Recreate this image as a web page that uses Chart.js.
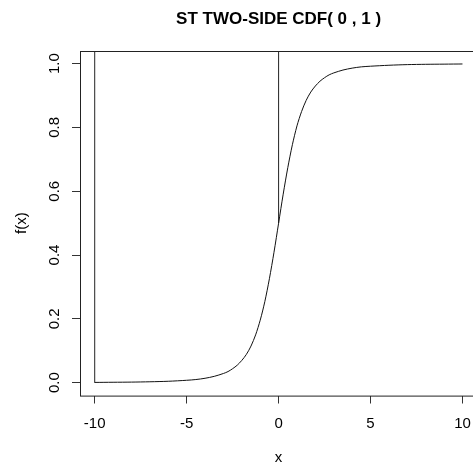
<!DOCTYPE html>
<html>
<head>
<meta charset="utf-8">
<script src="https://cdn.jsdelivr.net/npm/chart.js@4.4.1/dist/chart.umd.min.js"></script>
<style>
  html, body { margin: 0; padding: 0; background: #fff; overflow: hidden; }
  #wrap { width: 482px; height: 468px; }
</style>
</head>
<body>
<div id="wrap"><canvas id="myChart"></canvas></div>
<script>
// curve
const xValues = [-10, -9, -8, -7, -6, -5, -4.5, -4, -3.5, -3, -2.75, -2.5, -2.25, -2, -1.75, -1.5, -1.25, -1, -0.75, -0.5, -0.25, 0,
  0.25, 0.5, 0.75, 1, 1.25, 1.5, 1.75, 2, 2.25, 2.5, 2.75, 3, 3.5, 4, 4.5, 5, 6, 7, 8, 9, 10];
const fValues = [0.001, 0.0015, 0.002, 0.003, 0.0046, 0.0077, 0.010, 0.014, 0.020, 0.029, 0.035, 0.044, 0.055, 0.070, 0.089, 0.115, 0.150, 0.196, 0.254, 0.326, 0.409, 0.5,
  0.591, 0.674, 0.746, 0.805, 0.850, 0.885, 0.911, 0.930, 0.945, 0.956, 0.965, 0.971, 0.980, 0.986, 0.990, 0.992, 0.995, 0.997, 0.998, 0.9985, 0.999];
// the two vertical strokes
const jumpX = [-10, 0];
const jumpLow = [0, 0.5];
const jumpHigh = [1.04, 1.04];

const xTicks = [-10, -5, 0, 5, 10];
const yTicks = [0, 0.2, 0.4, 0.6, 0.8, 1.0];

const curve = xValues.map((x, i) => ({ x: x, y: fValues[i] }));
const jumps = jumpX.map((x, i) => ({
  type: 'scatter', showLine: true, borderColor: '#222', borderWidth: 1, pointRadius: 0,
  data: [{ x: x, y: jumpLow[i] }, { x: x, y: jumpHigh[i] }]
}));

const frame = {
  id: 'frame',
  afterDatasetsDraw(chart) {
    const a = chart.chartArea, ctx = chart.ctx;
    ctx.save();
    ctx.strokeStyle = '#222';
    ctx.lineWidth = 1;
    ctx.strokeRect(Math.round(a.left) + 0.5, Math.round(a.top) + 0.5, a.right - a.left, a.bottom - a.top);
    ctx.restore();
  }
};

Chart.defaults.font.family = "'Liberation Sans', Arial, sans-serif";
Chart.defaults.color = '#000';

new Chart(document.getElementById('myChart'), {
  type: 'scatter',
  data: {
    datasets: [{
      showLine: true, borderColor: '#111', borderWidth: 1, pointRadius: 0, tension: 0.3,
      data: curve
    }, ...jumps]
  },
  options: {
    responsive: true,
    maintainAspectRatio: false,
    animation: false,
    layout: { padding: 0 },
    plugins: {
      legend: { display: false },
      tooltip: { enabled: false },
      title: {
        display: true,
        text: 'ST TWO-SIDE CDF( 0 , 1 )',
        fullSize: false,
        font: { size: 17, weight: 'bold' },
        color: '#000',
        padding: { top: 9, bottom: 21.5 }
      }
    },
    scales: {
      x: {
        min: -10.8, max: 10.8,
        afterBuildTicks: (s) => { s.ticks = xTicks.map(v => ({ value: v })); },
        afterFit: (s) => { s.height = 72.5; },
        grid: { display: true, drawOnChartArea: false, drawTicks: true, tickLength: 8, color: '#333' },
        border: { display: false },
        ticks: { font: { size: 15 }, padding: 11, maxRotation: 0, callback: (v) => String(v) },
        title: { display: true, text: 'x', font: { size: 15 }, padding: { top: 0, bottom: 1 } }
      },
      y: {
        min: -0.04, max: 1.04,
        afterBuildTicks: (s) => { s.ticks = yTicks.map(v => ({ value: v })); },
        afterFit: (s) => { s.width = 80; },
        grid: { display: true, drawOnChartArea: false, drawTicks: true, tickLength: 8, color: '#333' },
        border: { display: false },
        ticks: { font: { size: 15 }, padding: 17, labelOffset: -10.5, minRotation: 90, maxRotation: 90, callback: (v) => v.toFixed(1) },
        title: { display: true, text: 'f(x)', font: { size: 15 }, padding: { top: 13, bottom: 0 } }
      }
    }
  },
  plugins: [frame]
});
</script>
</body>
</html>
